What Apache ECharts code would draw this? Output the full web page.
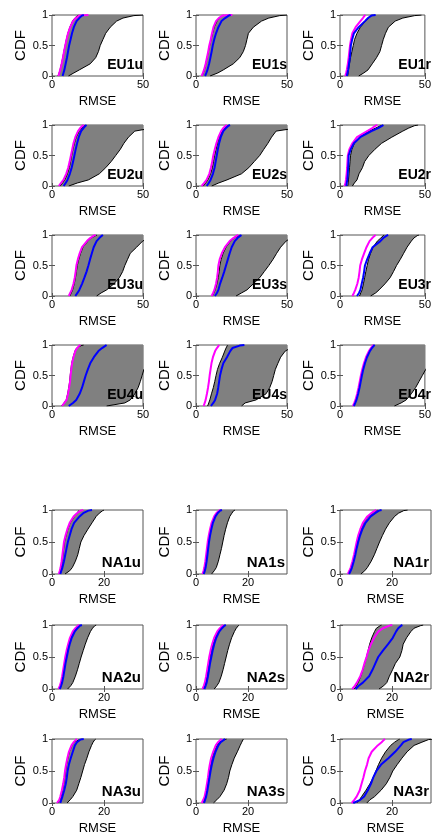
<!DOCTYPE html>
<html><head><meta charset="utf-8">
<script src="https://cdn.jsdelivr.net/npm/echarts@6/dist/echarts.min.js"></script>
<style>html,body{margin:0;padding:0;background:#fff}#c{width:434px;height:838px}</style>
</head><body><div id="c"></div>
<script>
// CDF levels at which each curve's RMSE value is read
const cdfLevels = [0, 0.05, 0.1, 0.2, 0.3, 0.4, 0.5, 0.6, 0.7, 0.8, 0.9, 0.95, 0.99, 1];
const yTicks = [0, 0.5, 1];
const euXTicks = [0, 50];
const naXTicks = [0, 20];
const euXMax = 50, naXMax = 35;

// each panel: lower / upper bound of grey band, blue curve, magenta curve (RMSE at cdfLevels)
const EU1u = {lower:[3.3,3.9,4.4,5.2,5.9,6.5,7.2,7.9,8.7,9.8,11.3,12.5,14,14.5], upper:[9,12,15,21,24,25.5,26.5,28,29.5,32,35.5,39,45,50], blue:[5.8,6.3,6.8,7.5,8.2,8.8,9.4,10.2,11,12,13.5,15,16.5,17.5], magenta:[3.5,4,4.5,5.3,6,6.6,7.3,8,8.8,10,11.5,13,15,20]};
const EU1s = {lower:[3.3,4,4.6,5.4,6.1,6.8,7.5,8.3,9.1,10,11.5,13,14.5,15], upper:[7.7,12,15,20.5,24,26,27.2,28,28.8,31.5,36,40,46,50], blue:[5,5.7,6.3,7.2,7.9,8.6,9.2,10,11,12.3,14,16,18,19], magenta:[3.1,3.8,4.4,5.3,6,6.7,7.3,8.1,8.8,9.6,11,12.5,14.5,20]};
const EU1r = {lower:[4.5,4.8,5,5.6,6.2,7,7.8,8.6,10,12,15,17,18.5,19], upper:[11,14,16.5,19,21.5,23.5,24.5,25.5,26.8,28.5,32.5,37,44,48], blue:[4,4.4,4.8,5.3,5.8,6.1,6.4,7.2,8.2,11,14.7,16.5,18.5,21], magenta:[3.1,3.6,4,4.6,5.1,5.5,5.9,6.5,7.3,9.2,12,13.5,14.5,15]};
const EU2u = {lower:[4.5,5.8,7,8.5,9.5,10.2,10.8,11.5,12.3,13.3,15,16.5,18,18.3], upper:[9.2,14,20,26,29.5,32.5,35,37.5,39.5,42,45.5,55,65,70], blue:[6.4,7.5,8.5,9.8,10.8,11.6,12.3,13,13.8,14.7,16,17.3,18.5,19], magenta:[3.7,5,6.3,7.8,8.9,9.7,10.4,11.1,11.8,12.8,14.3,15.5,17,17.5]};
const EU2s = {lower:[4,5.3,6.5,8,9,9.6,10.2,11,11.8,12.8,14.5,16,17.5,18], upper:[8.6,12.5,17,25,29,32,35,37.2,39.5,41.5,44,55,65,70], blue:[5.9,7,8,9.3,10.2,10.8,11.4,12,12.7,13.6,15,16.5,18,18.7], magenta:[3.1,4.5,5.8,7.3,8.2,8.9,9.5,10.3,11.2,12.3,13.8,15,16.5,17]};
const EU2r = {lower:[4.6,4.8,5,5.3,5.6,5.9,6.2,7,8.5,11.5,17,21,24,25], upper:[7.3,8.5,10,11.2,13.2,14.5,17,20.5,24.5,30.5,37,40.5,44,46], blue:[3.7,4,4.3,4.6,4.8,5,5.1,6.3,8.2,11.9,18.5,22.5,25,25.6], magenta:[2.7,3.2,3.5,3.9,4.2,4.4,4.6,5.5,7.3,10,16,19,21,22]};
const EU3u = {lower:[9.8,10.6,11.3,12.2,12.9,13.4,13.9,14.7,15.7,17,19.7,21.5,24,24.7], upper:[24.5,27,30,34,37,38.8,40,41.5,43,46.5,49.8,53,56,58], blue:[12.8,14,15,16.5,17.8,19,20,20.9,21.9,22.9,24.5,26,27.5,28], magenta:[9.2,10,10.8,11.8,12.5,13,13.4,14.2,15.2,16.5,19.2,21,23,24]};
const EU3s = {lower:[9,9.8,10.5,11.5,12.2,12.7,13.1,13.8,14.9,16.5,19,21,23.5,24], upper:[22,25,28,31.5,35,37.5,40,42.3,44.3,46.5,49.5,52,55,57], blue:[10.4,11.5,12.3,13.2,14.4,15.5,16.5,17.5,18.5,19.6,21.3,22.8,24.5,25], magenta:[8.6,9.4,10.1,11,11.6,12,12.3,13,14.2,15.9,18.5,20.5,22.5,23.3]};
const EU3r = {lower:[11.5,12.2,13,13.8,14.5,15.2,16,16.8,18,19.5,22,24,25.5,26], upper:[18,21,23,26.5,29.5,31.5,33.3,35.5,37.5,39.5,42,43.5,45.5,46.5], blue:[10,11.2,12,12.8,13.6,14.2,14.7,16,17.5,19.2,23.8,25.5,27.5,28.4], magenta:[7.3,8.2,9,10.2,11,11.5,11.9,12.9,14.2,15.6,17.4,19,20.5,21]};
const EU4u = {lower:[5.3,6.6,7.8,8.6,9.2,9.7,10,10.4,10.8,11.6,12.6,13.5,16,17.4], upper:[30,40,43,45.5,47.3,48.5,49.5,50.5,53,56,60,63,66,67], blue:[9.2,11.5,13.3,15.2,16.5,17.5,18.5,19.7,21,23,25.5,27.5,29.5,30], magenta:[5.5,6.8,8,8.8,9.4,9.9,10.2,10.6,11,11.8,12.8,13.8,15,15.6]};
const EU4s = {lower:[6.4,7,7.6,8.5,9.5,10.3,11,11.8,13,14.5,15.8,16.5,17.2,17.4], upper:[25,27,33,38.5,40.5,41.8,42.7,43.6,45,46.5,49,52,55,56], blue:[8.2,9.5,10.5,11.6,12.2,12.7,13.2,14,15,17,18.8,20,24,26.6], magenta:[4.2,4.8,5.3,6,6.6,7.1,7.5,8,8.5,9.3,10.5,11.5,12.5,12.8]};
const EU4r = {lower:[7.8,8.6,9.3,10.3,11.1,11.8,12.5,13.3,14.3,15.5,17.2,18.4,19.5,20], upper:[32,36,39,42,44.5,46.5,48.5,50.5,53,56,59,61,63,64], blue:[8.2,9,9.7,10.7,11.5,12.2,12.9,13.7,14.7,15.9,17.6,18.8,20,20.5], magenta:[7.6,8.4,9.1,10.1,10.9,11.6,12.3,13.1,14.1,15.3,17,18.2,19.3,19.8]};
const NA1u = {lower:[2.8,3.2,3.5,3.9,4.2,4.5,4.8,5.4,6.1,7,8.6,9.8,10.2,10.3], upper:[5,6.8,7.8,9,9.9,10.5,11.1,12.3,13.8,15.4,17,18.2,19.5,20], blue:[3.2,3.6,4,4.6,5.1,5.6,6.1,6.8,7.5,8.5,10.6,12,14,15.4], magenta:[2.6,3,3.3,3.7,4,4.3,4.6,5.2,5.9,6.8,8.3,9.6,11,12]};
const NA1s = {lower:[2.7,3.1,3.4,3.8,4.1,4.4,4.7,5.1,5.6,6.2,7.2,8,9,9.5], upper:[6,7,7.8,8.6,9.2,9.8,10.3,10.8,11.4,12.1,13,13.8,14.5,15], blue:[3,3.4,3.7,4.1,4.4,4.7,5,5.4,5.9,6.5,7.5,8.3,9.3,10], magenta:[2.5,2.9,3.2,3.6,3.9,4.2,4.5,4.9,5.4,6,7,7.8,8.8,9.5]};
const NA1r = {lower:[3.2,3.8,4.3,5,5.6,6.1,6.6,7.2,8,9,10.8,12.5,14,14.5], upper:[8,9.5,10.5,12,13.2,14.2,15.2,16.3,17.5,19,21,22.5,24.5,26], blue:[3.5,4.1,4.6,5.3,5.9,6.4,7,7.7,8.6,9.8,11.8,13.5,15,16], magenta:[3,3.6,4.1,4.8,5.4,5.9,6.4,7,7.8,8.8,10.5,12,13.5,14]};
const NA2u = {lower:[2.7,3.2,3.6,4.1,4.5,4.9,5.3,5.8,6.4,7.1,8.2,9.2,10.2,10.8], upper:[6,7.2,8,9,9.8,10.5,11.2,12,12.8,13.7,14.8,15.6,16.5,17], blue:[3,3.5,3.9,4.4,4.8,5.2,5.7,6.2,6.8,7.6,8.8,9.8,10.8,11.5], magenta:[2.5,3,3.4,3.9,4.3,4.7,5.1,5.6,6.2,6.9,8,9,10,10.5]};
const NA2s = {lower:[2.8,3.3,3.7,4.2,4.6,5,5.4,5.9,6.5,7.3,8.5,9.5,10.5,11], upper:[7,8,8.8,9.7,10.4,11,11.6,12.2,12.9,13.7,14.8,15.5,16.3,16.5], blue:[3.2,3.7,4.1,4.6,5,5.4,5.9,6.4,7,7.8,9,10,11,11.5], magenta:[2.5,3,3.4,3.9,4.3,4.7,5.1,5.6,6.2,7,8.2,9.2,10.2,10.5]};
const NA2r = {lower:[5.5,6.3,7,8,8.8,9.5,10.2,10.8,11.4,12.2,13.3,14,15.5,16], upper:[15,16.8,18,19,20.2,21.3,23,23.8,24.3,25.6,27.3,28.5,31,32], blue:[6,7.2,8.8,11.2,12.5,13.6,14.7,16.5,18.5,20.3,21.6,22.4,23.5,24], magenta:[4.7,5.7,6.5,7.8,8.7,9.4,10.2,10.9,11.9,13.1,14.8,16.5,19,20.1]};
const NA3u = {lower:[2.2,3,3.4,4,4.5,4.9,5.2,5.6,6.1,6.7,7.7,8.5,10.5,11.5], upper:[5.8,7,8,9.5,10.3,11.1,11.8,12.5,13.4,14.2,15.2,15.8,16.5,16.8], blue:[3.2,3.6,4,4.7,5.3,5.7,6,6.5,7.2,8,8.8,9.6,10.9,12.2], magenta:[1.9,2.8,3.2,3.8,4.3,4.7,5,5.4,5.9,6.5,7.5,8.3,9.3,9.6]};
const NA3s = {lower:[2.5,3.1,3.6,4.1,4.5,4.9,5.2,5.6,6.1,6.9,8,9,11,11.8], upper:[6.7,8,9.2,10.8,11.8,12.5,13,13.8,14.7,15.9,17,17.6,18.1,18.3], blue:[3.1,3.5,3.9,4.4,4.8,5.2,5.6,6.1,6.7,7.5,8.6,9.5,10.8,11.2], magenta:[2.2,2.8,3.3,3.8,4.2,4.6,4.9,5.3,5.8,6.6,7.6,8.5,9.5,9.9]};
const NA3r = {lower:[6.4,7.5,8.3,10,11.5,12.8,13.8,14.8,16,17.5,19.5,21,22.5,23], upper:[10.3,11.5,13.3,15.8,17.8,19.2,20.3,22,23.8,25.8,28.5,31.5,34,36], blue:[5.1,7.8,9.3,10.7,11.9,12.8,14,15.8,18.6,21.2,23.4,24.4,26.5,27.6], magenta:[4.5,5.5,6.4,7.6,8.3,9,9.6,10.4,11,12.2,14.5,16,17,17.3]};

const euPanels = [['EU1u',EU1u],['EU1s',EU1s],['EU1r',EU1r],['EU2u',EU2u],['EU2s',EU2s],['EU2r',EU2r],['EU3u',EU3u],['EU3s',EU3s],['EU3r',EU3r],['EU4u',EU4u],['EU4s',EU4s],['EU4r',EU4r]];
const naPanels = [['NA1u',NA1u],['NA1s',NA1s],['NA1r',NA1r],['NA2u',NA2u],['NA2s',NA2s],['NA2r',NA2r],['NA3u',NA3u],['NA3s',NA3s],['NA3r',NA3r]];

// layout
const colLeft = [52, 196, 340], W = 91;
const euTop = [15, 125, 235, 345], euH = 61;
const naTop = [510, 625, 739], naH = 64;
const FONT = '"Liberation Sans", Arial, Helvetica, sans-serif';
const BOX = '#555555';

const grid = [], xAxis = [], yAxis = [], series = [], graphic = [];
const all = euPanels.map(p => [p[0], p[1], true]).concat(naPanels.map(p => [p[0], p[1], false]));

all.forEach(([name, d, isEU], i) => {
  const k = isEU ? i : i - 12;
  const r = Math.floor(k / 3), c = k % 3;
  const top = isEU ? euTop[r] : naTop[r];
  const h = isEU ? euH : naH;
  const left = colLeft[c];
  const xmax = isEU ? euXMax : naXMax;
  const xt = isEU ? euXTicks : naXTicks;
  grid.push({left, top, width: W, height: h, show: true, borderColor: BOX, borderWidth: 1, backgroundColor: '#fff'});
  const tick = {show: true, inside: true, length: 3, lineStyle: {color: BOX, width: 1}};
  xAxis.push({gridIndex: i, type: 'value', min: 0, max: xmax, position: 'bottom',
    axisLine: {show: false}, splitLine: {show: false},
    axisTick: Object.assign({}, tick, {customValues: xt}),
    axisLabel: {customValues: xt, margin: 3, color: '#000', fontSize: 11, fontFamily: FONT},
    name: 'RMSE', nameLocation: 'middle', nameGap: 19,
    nameTextStyle: {color: '#000', fontSize: 13, fontFamily: FONT}});
  xAxis.push({gridIndex: i, type: 'value', min: 0, max: xmax, position: 'top',
    axisLine: {show: false}, splitLine: {show: false},
    axisTick: Object.assign({}, tick, {customValues: xt}), axisLabel: {show: false}});
  yAxis.push({gridIndex: i, type: 'value', min: 0, max: 1, position: 'left',
    axisLine: {show: false}, splitLine: {show: false},
    axisTick: Object.assign({}, tick, {customValues: yTicks}),
    axisLabel: {customValues: yTicks, margin: 4, color: '#000', fontSize: 11, fontFamily: FONT},
    name: 'CDF', nameLocation: 'middle', nameGap: 24,
    nameTextStyle: {color: '#000', fontSize: 15, fontFamily: FONT}});
  yAxis.push({gridIndex: i, type: 'value', min: 0, max: 1, position: 'right',
    axisLine: {show: false}, splitLine: {show: false},
    axisTick: Object.assign({}, tick, {customValues: yTicks}), axisLabel: {show: false}});

  const xi = 2 * i, yi = 2 * i;
  const pts = arr => arr.map((x, j) => [x, cdfLevels[j]]);
  series.push({type: 'custom', xAxisIndex: xi, yAxisIndex: yi, clip: true, silent: true, z: 1,
    data: [[0, 0]],
    renderItem: (params, api) => {
      const a = d.lower.map((x, j) => api.coord([x, cdfLevels[j]]));
      const b = d.upper.map((x, j) => api.coord([x, cdfLevels[j]])).reverse();
      return {type: 'polygon', shape: {points: a.concat(b)}, style: {fill: '#808080', stroke: null}};
    }});
  const line = (arr, color, width, z) => ({type: 'line', xAxisIndex: xi, yAxisIndex: yi, data: pts(arr),
    showSymbol: false, symbol: 'none', clip: true, silent: true, z,
    lineStyle: {color, width}});
  series.push(line(d.lower, '#000', 1, 2));
  series.push(line(d.upper, '#000', 1, 2));
  series.push(line(d.magenta, '#ff00ff', 2, 3));
  series.push(line(d.blue, '#0000ff', 2, 4));

  graphic.push({type: 'text', x: left + W - (isEU ? 0 : 2), y: top + h - 4, z: 100,
    style: {text: name, fill: '#000', textAlign: 'right', textVerticalAlign: 'bottom',
      font: 'bold ' + (isEU ? '14px ' : '15px ') + FONT}});
});

const chart = echarts.init(document.getElementById('c'), null, {renderer: 'canvas'});
chart.setOption({animation: false, backgroundColor: '#fff', grid, xAxis, yAxis, series, graphic});
</script></body></html>
